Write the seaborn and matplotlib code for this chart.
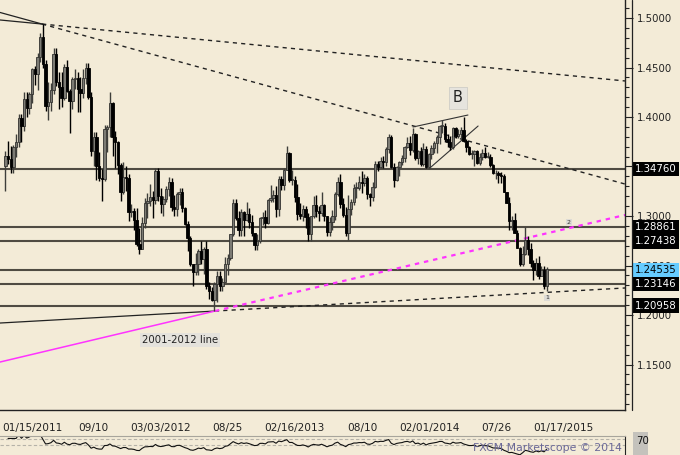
import numpy as np
import pandas as pd
import matplotlib
matplotlib.use("Agg")
import matplotlib.pyplot as plt
import matplotlib.transforms as mtransforms
from matplotlib.ticker import MultipleLocator, FixedLocator
from matplotlib.patches import Rectangle
import seaborn as sns

# ---------------- data (weekly EUR/USD bars) ----------------
opens = [1.3500, 1.3605, 1.3580, 1.3495, 1.3695, 1.3745, 1.3990, 1.3905, 1.4180, 1.4090,
         1.4230, 1.4480, 1.4430, 1.4610, 1.4810, 1.4535, 1.4115, 1.4155, 1.4270, 1.4640,
         1.4350, 1.4305, 1.4190, 1.4500, 1.4260, 1.4165, 1.4380, 1.4395, 1.4280, 1.4245,
         1.4390, 1.4495, 1.4205, 1.3655, 1.3795, 1.3500, 1.3385, 1.3375, 1.3875, 1.3895,
         1.4140, 1.3795, 1.3745, 1.3520, 1.3240, 1.3390, 1.3380, 1.3040, 1.3050, 1.2960,
         1.2720, 1.2670, 1.2930, 1.3135, 1.3150, 1.3190, 1.3160, 1.3450, 1.3200, 1.3120,
         1.3175, 1.3275, 1.3340, 1.3095, 1.3075, 1.3225, 1.3240, 1.3085, 1.2915, 1.2780,
         1.2515, 1.2435, 1.2515, 1.2645, 1.2570, 1.2665, 1.2290, 1.2245, 1.2155, 1.2315,
         1.2390, 1.2290, 1.2335, 1.2515, 1.2575, 1.2815, 1.3130, 1.2980, 1.2860, 1.3040,
         1.2955, 1.3025, 1.2940, 1.2830, 1.2710, 1.2745, 1.2975, 1.2985, 1.2925, 1.3165,
         1.3185, 1.3215, 1.3070, 1.3375, 1.3315, 1.3460, 1.3640, 1.3365, 1.3365, 1.3190,
         1.3020, 1.3005, 1.3075, 1.2990, 1.2820, 1.3000, 1.3110, 1.3050, 1.3030, 1.3115,
         1.2995, 1.2835, 1.2935, 1.2995, 1.3220, 1.3345, 1.3120, 1.3010, 1.2830, 1.3070,
         1.3140, 1.3280, 1.3280, 1.3340, 1.3330, 1.3380, 1.3220, 1.3190, 1.3290, 1.3530,
         1.3490, 1.3560, 1.3550, 1.3680, 1.3800, 1.3490, 1.3360, 1.3490, 1.3550, 1.3590,
         1.3700, 1.3740, 1.3670, 1.3830, 1.3590, 1.3660, 1.3530, 1.3680, 1.3490, 1.3630,
         1.3690, 1.3740, 1.3800, 1.3910, 1.3910, 1.3780, 1.3750, 1.3700, 1.3890, 1.3810,
         1.3830, 1.3870, 1.3760, 1.3700, 1.3630, 1.3630, 1.3660, 1.3540, 1.3600, 1.3640,
         1.3600, 1.3600, 1.3520, 1.3430, 1.3430, 1.3410, 1.3400, 1.3240, 1.3130, 1.2950,
         1.2960, 1.2830, 1.2680, 1.2520, 1.2620, 1.2760, 1.2670, 1.2530, 1.2450, 1.2530,
         1.2390, 1.2450, 1.2290]
highs = [1.3660, 1.3760, 1.3710, 1.3720, 1.3830, 1.4035, 1.4035, 1.4250, 1.4250, 1.4250,
         1.4490, 1.4520, 1.4650, 1.4850, 1.4940, 1.4580, 1.4350, 1.4345, 1.4700, 1.4700,
         1.4450, 1.4450, 1.4540, 1.4580, 1.4280, 1.4400, 1.4480, 1.4450, 1.4400, 1.4480,
         1.4550, 1.4550, 1.4250, 1.3850, 1.3850, 1.3650, 1.3470, 1.3920, 1.3920, 1.4250,
         1.4150, 1.3860, 1.3760, 1.3540, 1.3550, 1.3500, 1.3420, 1.3120, 1.3080, 1.3080,
         1.2880, 1.2990, 1.3180, 1.3230, 1.3320, 1.3250, 1.3480, 1.3480, 1.3280, 1.3200,
         1.3300, 1.3390, 1.3380, 1.3210, 1.3240, 1.3280, 1.3280, 1.3090, 1.2950, 1.2800,
         1.2520, 1.2630, 1.2670, 1.2750, 1.2690, 1.2750, 1.2330, 1.2280, 1.2330, 1.2440,
         1.2440, 1.2370, 1.2590, 1.2620, 1.2820, 1.3170, 1.3170, 1.3050, 1.3070, 1.3050,
         1.3140, 1.3080, 1.3010, 1.2830, 1.2820, 1.2990, 1.3040, 1.3060, 1.3170, 1.3310,
         1.3260, 1.3300, 1.3400, 1.3400, 1.3480, 1.3710, 1.3650, 1.3460, 1.3400, 1.3320,
         1.3130, 1.3110, 1.3100, 1.3030, 1.3000, 1.3200, 1.3210, 1.3100, 1.3240, 1.3120,
         1.3000, 1.2990, 1.3060, 1.3240, 1.3390, 1.3420, 1.3180, 1.3090, 1.3210, 1.3170,
         1.3320, 1.3340, 1.3400, 1.3450, 1.3420, 1.3400, 1.3230, 1.3340, 1.3560, 1.3560,
         1.3600, 1.3610, 1.3700, 1.3830, 1.3820, 1.3540, 1.3500, 1.3560, 1.3620, 1.3710,
         1.3800, 1.3810, 1.3893, 1.3840, 1.3670, 1.3700, 1.3740, 1.3710, 1.3640, 1.3720,
         1.3760, 1.3820, 1.3920, 1.3967, 1.3940, 1.3830, 1.3810, 1.3900, 1.3900, 1.3880,
         1.3900, 1.3995, 1.3780, 1.3710, 1.3670, 1.3670, 1.3670, 1.3640, 1.3680, 1.3700,
         1.3650, 1.3630, 1.3530, 1.3460, 1.3450, 1.3440, 1.3420, 1.3240, 1.3190, 1.3000,
         1.3030, 1.2860, 1.2690, 1.2700, 1.2887, 1.2800, 1.2730, 1.2560, 1.2580, 1.2600,
         1.2500, 1.2500, 1.2480]
lows = [1.3250, 1.3530, 1.3430, 1.3430, 1.3600, 1.3700, 1.3750, 1.3860, 1.4000, 1.4030,
        1.4140, 1.4320, 1.4270, 1.4560, 1.4500, 1.4060, 1.3970, 1.4060, 1.4230, 1.4310,
        1.4080, 1.4100, 1.4170, 1.4250, 1.3840, 1.4080, 1.4280, 1.4050, 1.4050, 1.4190,
        1.4330, 1.4180, 1.3610, 1.3500, 1.3360, 1.3350, 1.3150, 1.3350, 1.3650, 1.3800,
        1.3610, 1.3480, 1.3420, 1.3150, 1.3220, 1.3250, 1.2950, 1.2990, 1.2860, 1.2700,
        1.2620, 1.2670, 1.2880, 1.2980, 1.3100, 1.2980, 1.3120, 1.3150, 1.3030, 1.3000,
        1.3140, 1.3200, 1.3050, 1.3000, 1.3000, 1.3110, 1.3040, 1.2910, 1.2650, 1.2500,
        1.2290, 1.2400, 1.2400, 1.2520, 1.2410, 1.2260, 1.2160, 1.2140, 1.2042, 1.2130,
        1.2240, 1.2240, 1.2330, 1.2400, 1.2560, 1.2800, 1.2960, 1.2800, 1.2800, 1.2800,
        1.2950, 1.2880, 1.2800, 1.2660, 1.2660, 1.2730, 1.2910, 1.2880, 1.2920, 1.3140,
        1.3140, 1.2990, 1.3000, 1.3260, 1.3260, 1.3460, 1.3340, 1.3310, 1.3140, 1.2960,
        1.2970, 1.2950, 1.2880, 1.2750, 1.2745, 1.2980, 1.2990, 1.2950, 1.3000, 1.2950,
        1.2800, 1.2800, 1.2860, 1.2960, 1.3200, 1.3080, 1.2990, 1.2800, 1.2755, 1.3010,
        1.3110, 1.3180, 1.3260, 1.3230, 1.3300, 1.3170, 1.3100, 1.3150, 1.3280, 1.3450,
        1.3480, 1.3480, 1.3500, 1.3640, 1.3480, 1.3295, 1.3350, 1.3400, 1.3520, 1.3550,
        1.3690, 1.3620, 1.3650, 1.3570, 1.3530, 1.3510, 1.3510, 1.3480, 1.3477, 1.3580,
        1.3640, 1.3640, 1.3730, 1.3840, 1.3750, 1.3700, 1.3670, 1.3680, 1.3790, 1.3790,
        1.3780, 1.3750, 1.3650, 1.3620, 1.3580, 1.3500, 1.3530, 1.3520, 1.3570, 1.3590,
        1.3590, 1.3490, 1.3420, 1.3370, 1.3330, 1.3330, 1.3240, 1.3130, 1.2860, 1.2860,
        1.2830, 1.2680, 1.2500, 1.2500, 1.2610, 1.2610, 1.2480, 1.2357, 1.2400, 1.2360,
        1.2390, 1.2260, 1.2247]
closes = [1.3605, 1.3580, 1.3495, 1.3695, 1.3745, 1.3990, 1.3905, 1.4180, 1.4090, 1.4230,
          1.4480, 1.4430, 1.4610, 1.4810, 1.4535, 1.4115, 1.4155, 1.4270, 1.4640, 1.4350,
          1.4305, 1.4190, 1.4500, 1.4260, 1.4165, 1.4380, 1.4395, 1.4280, 1.4245, 1.4390,
          1.4495, 1.4205, 1.3655, 1.3795, 1.3500, 1.3385, 1.3375, 1.3875, 1.3895, 1.4140,
          1.3795, 1.3745, 1.3520, 1.3240, 1.3390, 1.3380, 1.3040, 1.3050, 1.2960, 1.2720,
          1.2670, 1.2930, 1.3135, 1.3150, 1.3190, 1.3160, 1.3450, 1.3200, 1.3120, 1.3175,
          1.3275, 1.3340, 1.3095, 1.3075, 1.3225, 1.3240, 1.3085, 1.2915, 1.2780, 1.2515,
          1.2435, 1.2515, 1.2645, 1.2570, 1.2665, 1.2290, 1.2245, 1.2155, 1.2315, 1.2390,
          1.2290, 1.2335, 1.2515, 1.2575, 1.2815, 1.3130, 1.2980, 1.2860, 1.3040, 1.2955,
          1.3025, 1.2940, 1.2830, 1.2710, 1.2745, 1.2975, 1.2985, 1.2925, 1.3165, 1.3185,
          1.3215, 1.3070, 1.3375, 1.3315, 1.3460, 1.3640, 1.3365, 1.3365, 1.3190, 1.3020,
          1.3005, 1.3075, 1.2990, 1.2820, 1.3000, 1.3110, 1.3050, 1.3030, 1.3115, 1.2995,
          1.2835, 1.2935, 1.2995, 1.3220, 1.3345, 1.3120, 1.3010, 1.2830, 1.3070, 1.3140,
          1.3280, 1.3280, 1.3340, 1.3330, 1.3380, 1.3220, 1.3190, 1.3290, 1.3530, 1.3490,
          1.3560, 1.3550, 1.3680, 1.3800, 1.3490, 1.3360, 1.3490, 1.3550, 1.3590, 1.3700,
          1.3740, 1.3670, 1.3830, 1.3590, 1.3660, 1.3530, 1.3680, 1.3490, 1.3630, 1.3690,
          1.3740, 1.3800, 1.3910, 1.3910, 1.3780, 1.3750, 1.3700, 1.3890, 1.3810, 1.3830,
          1.3870, 1.3760, 1.3700, 1.3630, 1.3630, 1.3660, 1.3540, 1.3600, 1.3640, 1.3600,
          1.3600, 1.3520, 1.3430, 1.3430, 1.3410, 1.3400, 1.3240, 1.3130, 1.2950, 1.2960,
          1.2830, 1.2680, 1.2520, 1.2620, 1.2760, 1.2670, 1.2530, 1.2450, 1.2530, 1.2390,
          1.2450, 1.2290, 1.2460]

levels = [1.34760, 1.28861, 1.27438, 1.24535, 1.23146, 1.20958]
level_labels = ["1.34760", "1.28861", "1.27438", "1.24535", "1.23146", "1.20958"]
highlight_level = "1.24535"

price_ticks = [1.15, 1.20, 1.25, 1.30, 1.35, 1.40, 1.45, 1.50]
price_tick_labels = ["1.1500", "1.2000", "1.2500", "1.3000", "", "1.4000", "1.4500", "1.5000"]

date_tick_pos = [9.6, 34.7, 59.8, 84.9, 110.0, 135.1, 160.2, 185.3, 210.4]
date_tick_labels = ["01/15/2011", "09/10", "03/03/2012", "08/25", "02/16/2013",
                    "08/10", "02/01/2014", "07/26", "01/17/2015"]

# trendlines (week position, price)
res_a_x = [0.0, 15.7, 233.2]
res_a_p = [1.4980, 1.4939, 1.4364]
res_b_x = [0.0, 15.7, 233.2]
res_b_p = [1.5056, 1.4939, 1.3323]
sup_x = [0.0, 80.2, 233.2]
sup_p = [1.1919, 1.2040, 1.2273]
mag_x = [0.0, 80.2, 233.2]
mag_p = [1.1525, 1.2040, 1.3010]
wedge_up_x = [154.1, 174.6]
wedge_up_p = [1.3899, 1.4020]
wedge_lo_x = [160.4, 178.4]
wedge_lo_p = [1.3485, 1.3909]

# ---------------- styling ----------------
sns.set_style("white")
plt.rcParams["font.family"] = ["DejaVu Sans"]
BG = "#F3EBD7"

W, H = 680, 455
fig = plt.figure(figsize=(W / 100, H / 100), dpi=100)
fig.patch.set_facecolor(BG)

ax_l, ax_r, ax_t, ax_b = 0, 625, 0, 410
ax = fig.add_axes([ax_l / W, 1 - ax_b / H, (ax_r - ax_l) / W, (ax_b - ax_t) / H])
ax.set_facecolor(BG)

XMAX = 625 / 2.68
ax.set_xlim(0, XMAX)
ax.set_ylim(1.5 - (410 - 18) / 990, 1.5 + 18 / 990)

df = pd.DataFrame({"open": opens, "high": highs, "low": lows, "close": closes})
df["x"] = np.arange(len(df)) + 2
up = df["close"] >= df["open"]

# horizontal levels
for lv in levels:
    ax.axhline(lv, color="#4F4B42", lw=1.5, zorder=1)

# trendlines
def seg(xs, ps, **kw):
    sns.lineplot(x=xs, y=ps, ax=ax, sort=False, estimator=None, **kw)

seg(res_a_x[:2], res_a_p[:2], color="#222222", lw=0.9, zorder=2)
seg(res_a_x[1:], res_a_p[1:], color="#222222", lw=1.0, linestyle=(0, (3, 3)), zorder=2)
seg(res_b_x[:2], res_b_p[:2], color="#222222", lw=0.9, zorder=2)
seg(res_b_x[1:], res_b_p[1:], color="#222222", lw=1.0, linestyle=(0, (3, 3)), zorder=2)
seg(sup_x[:2], sup_p[:2], color="#222222", lw=0.9, zorder=2)
seg(sup_x[1:], sup_p[1:], color="#222222", lw=1.0, linestyle=(0, (3, 3)), zorder=2)
seg(mag_x[:2], mag_p[:2], color="#FF33FF", lw=1.1, zorder=2)
seg(mag_x[1:], mag_p[1:], color="#FF33FF", lw=1.6, linestyle=(0, (2, 2.2)), zorder=2)
seg(wedge_up_x, wedge_up_p, color="#333333", lw=0.8, zorder=2)
seg(wedge_lo_x, wedge_lo_p, color="#333333", lw=0.8, zorder=2)

# candles
up_wick = "#3E3E3A"
ax.vlines(df.loc[up, "x"], df.loc[up, "low"], df.loc[up, "high"], color=up_wick, lw=1.0, zorder=3)
ax.vlines(df.loc[~up, "x"], df.loc[~up, "low"], df.loc[~up, "high"], color="#000000", lw=1.0, zorder=3)
body_up = (df.loc[up, "close"] - df.loc[up, "open"]).clip(lower=0.0008)
ax.bar(df.loc[up, "x"], body_up, bottom=df.loc[up, "open"], width=0.9,
       color="#7C7B74", edgecolor="#333330", linewidth=0.6, zorder=4)
body_dn = (df.loc[~up, "open"] - df.loc[~up, "close"]).clip(lower=0.0008)
ax.bar(df.loc[~up, "x"], body_dn, bottom=df.loc[~up, "close"], width=0.9,
       color="#000000", edgecolor="#000000", linewidth=0.6, zorder=4)

# annotations
ax.text(170.9, 1.4192, "B", fontsize=10.5, ha="center", va="center", color="#222222",
        bbox=dict(boxstyle="square,pad=0.25", fc="#E6E4DE", ec="#CFCDC6", lw=0.6), zorder=6)
ax.text(67.2, 1.1747, "2001-2012 line", fontsize=7.3, ha="center", va="center", color="#222222",
        bbox=dict(boxstyle="square,pad=0.2", fc="#E4E2DC", ec="none"), zorder=6)
ax.text(212.3, 1.2939, "2", fontsize=4.5, ha="center", va="center", color="#333333",
        bbox=dict(boxstyle="square,pad=0.15", fc="#DDDBD5", ec="none"), zorder=6)
ax.text(204.1, 1.2172, "1", fontsize=4.5, ha="center", va="center", color="#333333",
        bbox=dict(boxstyle="square,pad=0.15", fc="#DDDBD5", ec="none"), zorder=6)

# axes frame
for s in ["top", "left"]:
    ax.spines[s].set_visible(False)
for s in ["right", "bottom"]:
    ax.spines[s].set_color("#222222")
    ax.spines[s].set_linewidth(1.0)

ax.yaxis.tick_right()
ax.yaxis.set_major_locator(FixedLocator(price_ticks))
ax.set_yticklabels(price_tick_labels)
ax.yaxis.set_minor_locator(MultipleLocator(0.01))
ax.tick_params(axis="y", which="major", direction="out", length=5.5, width=0.8,
               labelsize=7.3, pad=3, colors="#222222")
ax.tick_params(axis="y", which="minor", direction="out", length=3.2, width=0.8, colors="#222222")
ax.set_ylabel("")

ax.xaxis.set_major_locator(FixedLocator(date_tick_pos))
ax.xaxis.set_minor_locator(MultipleLocator(25.1 / 8))
ax.set_xticklabels([])
ax.tick_params(axis="x", which="major", direction="in", length=5, width=0.8, colors="#222222")
ax.tick_params(axis="x", which="minor", direction="in", length=2.5, width=0.8, colors="#222222")
ax.set_xlabel("")

xt = mtransforms.blended_transform_factory(ax.transData, ax.transAxes)
for i, (p, lab) in enumerate(zip(date_tick_pos, date_tick_labels)):
    if i == 0:
        ax.text(0.8, -18 / 410, lab, transform=xt, ha="left", va="center", fontsize=7.6,
                color="#222222", clip_on=False)
    else:
        ax.text(p, -18 / 410, lab, transform=xt, ha="center", va="center", fontsize=7.6,
                color="#222222", clip_on=False)

# second vertical border of the price scale
fig.add_artist(plt.Line2D([632 / W, 632 / W], [1 - 410 / H, 1.0], color="#222222", lw=0.9))

# price boxes on the scale
yt = mtransforms.blended_transform_factory(ax.transAxes, ax.transData)
for lv, lab in zip(levels, level_labels):
    hl = lab == highlight_level
    ax.text(635 / 625, lv, lab, transform=yt, ha="left", va="center", fontsize=7.3,
            color="#000000" if hl else "#FFFFFF", clip_on=False, zorder=10,
            bbox=dict(boxstyle="square,pad=0.22", fc="#66CCFF" if hl else "#000000", ec="none"))

# ---------------- indicator panel (RSI of the closes) ----------------
c = np.asarray(closes)
delta = np.diff(c)
gain = pd.Series(np.clip(delta, 0, None)).ewm(alpha=1 / 14, adjust=True, min_periods=4).mean()
loss = pd.Series(np.clip(-delta, 0, None)).ewm(alpha=1 / 14, adjust=True, min_periods=4).mean()
rsi = (100 - 100 / (1 + gain / loss)).bfill()
rsi_x = df["x"].iloc[1:].to_numpy()

ax2 = fig.add_axes([0, 0, 625 / W, 19 / H])
ax2.set_facecolor(BG)
ax2.set_xlim(0, XMAX)
ax2.set_ylim(15, 80)
for lv2 in [70, 50]:
    ax2.axhline(lv2, color="#B5B2A8", lw=0.8, linestyle=(0, (3, 2)))
sns.lineplot(x=rsi_x, y=rsi.to_numpy(), ax=ax2, color="#111111", lw=0.8)
for s in ["left", "bottom"]:
    ax2.spines[s].set_visible(False)
ax2.spines["top"].set_color("#A8A59C")
ax2.spines["right"].set_color("#222222")
ax2.set_xticks([])
ax2.set_yticks([])
ax2.set_xlabel("")
ax2.set_ylabel("")
ax2.text(0.995, 0.36, "FXCM Marketscope \u00a9 2014", transform=ax2.transAxes, ha="right",
         va="center", fontsize=7.8, color="#6A6898", zorder=5)
fig.add_artist(Rectangle((633 / W, 0), 15 / W, 23 / H, transform=fig.transFigure,
                         fc="#C4C2BC", ec="none"))
fig.text(636 / W, 1 - 441 / H, "70", ha="left", va="center", fontsize=7.3, color="#111111")

fig.savefig("out.png", dpi=100, facecolor=BG)
